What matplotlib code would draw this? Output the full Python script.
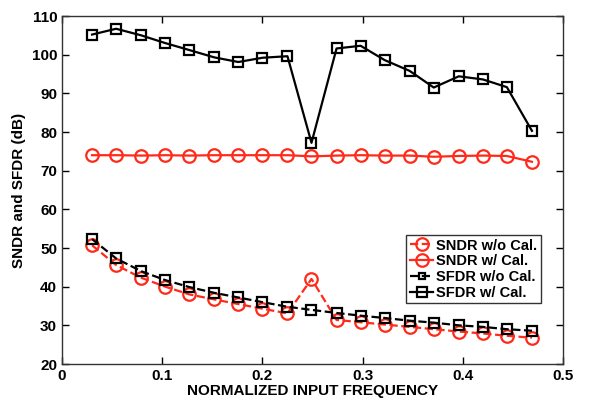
import matplotlib
matplotlib.use('Agg')
import matplotlib.pyplot as plt

plt.rcParams['font.family'] = ['Liberation Sans', 'DejaVu Sans']
plt.rcParams['font.weight'] = 'bold'

# normalized input frequency
freq = [0.030, 0.054, 0.079, 0.103, 0.127, 0.152, 0.176, 0.200, 0.225, 0.249,
        0.274, 0.298, 0.322, 0.347, 0.371, 0.396, 0.420, 0.444, 0.469]

sndr_wo = [50.7, 45.6, 42.3, 40.0, 38.0, 36.7, 35.5, 34.3, 33.1, 42.0,
           31.4, 30.8, 30.2, 29.6, 29.0, 28.4, 27.9, 27.3, 26.8]
sndr_w = [74.0, 74.0, 73.9, 74.0, 73.9, 74.0, 74.0, 74.0, 74.0, 73.7,
          73.9, 74.0, 73.9, 73.9, 73.6, 73.8, 73.9, 73.8, 72.3]
sfdr_wo = [52.3, 47.3, 44.0, 41.7, 39.9, 38.4, 37.2, 36.0, 34.8, 34.0,
           33.2, 32.5, 31.9, 31.2, 30.7, 30.0, 29.6, 29.0, 28.6]
sfdr_w = [105.2, 106.7, 105.0, 103.0, 101.2, 99.3, 98.1, 99.2, 99.6, 77.2,
          101.6, 102.3, 98.6, 95.8, 91.5, 94.4, 93.6, 91.6, 80.3]

fig = plt.figure(figsize=(5.99, 4.05), dpi=100)
ax = fig.add_axes([62/599, 1 - 364/405, 501/599, 348/405])

red = '#ff2a1a'
ax.plot(freq, sndr_wo, '--o', color=red, lw=1.6, ms=9, mfc='none', mew=1.6, label='SNDR w/o Cal.')
ax.plot(freq, sndr_w, '-o', color=red, lw=1.6, ms=9, mfc='none', mew=1.6, label='SNDR w/ Cal.')
ax.plot(freq, sfdr_wo, '--s', color='black', lw=1.6, ms=7, mfc='none', mew=1.6, label='SFDR w/o Cal.')
ax.plot(freq, sfdr_w, '-s', color='black', lw=1.6, ms=7, mfc='none', mew=1.6, label='SFDR w/ Cal.')

ax.set_xlim(0, 0.5)
ax.set_ylim(20, 110)
ax.set_xticks([0, 0.1, 0.2, 0.3, 0.4, 0.5])
ax.set_xticklabels(['0', '0.1', '0.2', '0.3', '0.4', '0.5'])
ax.set_yticks(range(20, 111, 10))
ax.tick_params(direction='in', top=True, right=True, labelsize=11, length=5, width=1)
for s in ax.spines.values():
    s.set_linewidth(1)
    s.set_color('#333333')

ax.set_xlabel('NORMALIZED INPUT FREQUENCY', fontsize=11, fontweight='bold', labelpad=1)
ax.set_ylabel('SNDR and SFDR (dB)', fontsize=11, fontweight='bold', labelpad=4)

leg = ax.legend(loc='upper right', bbox_to_anchor=(0.956, 0.371), borderaxespad=0,
                fontsize=10.5, frameon=True, fancybox=False, edgecolor='black',
                handlelength=1.6, handletextpad=0.2, borderpad=0.25, labelspacing=0.12)
leg.get_frame().set_linewidth(1)
leg.legend_handles[2].set_markersize(5)

fig.savefig('out.png', dpi=100)
